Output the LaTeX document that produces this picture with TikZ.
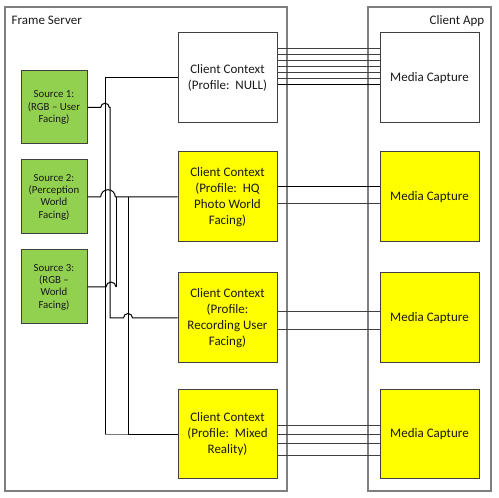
\documentclass[tikz,border=0pt]{standalone}
\usepackage{fontspec}
\setmainfont{Carlito}
\definecolor{boxc}{HTML}{404040}
\definecolor{contc}{HTML}{7F7F7F}
\definecolor{srcfill}{HTML}{92D050}
\definecolor{ylw}{HTML}{FFFF00}
\definecolor{txt}{HTML}{1A1A1A}
\definecolor{lng}{HTML}{404040}
\begin{document}
\begin{tikzpicture}[x=1pt,y=1pt,
  container/.style={draw=contc, line width=1.2pt, inner sep=0pt},
  ctx/.style={draw=boxc, line width=1pt, minimum width=99pt, minimum height=90pt, inner sep=0pt, align=center, text=txt, font=\fontsize{13}{16}\selectfont},
  src/.style={draw=boxc, line width=1pt, fill=srcfill, minimum width=66pt, minimum height=74pt, inner sep=0pt, align=center, text=txt, font=\fontsize{10.8}{12.3}\selectfont},
  title/.style={inner sep=0pt, text=txt, font=\fontsize{13}{16}\selectfont},
  bus/.style={draw=black, line width=1pt},
  busg/.style={draw=lng!70, line width=1pt},
  gl/.style={draw=lng, line width=1pt},
  bl/.style={draw=black, line width=1pt}]
\useasboundingbox (0,0) rectangle (499,498);
% containers
\node[container, minimum width=282pt, minimum height=484pt] (fs) at (146,249) {};
\node[container, minimum width=123pt, minimum height=484pt] (ca) at (429.5,249) {};
\node[title, anchor=base west] (fsl) at (11.5,473.7) {Frame Server};
\node[title, anchor=base east] (cal) at (484.5,473.7) {Client App};
% client contexts
\node[ctx] (cc1) at (227.5,420) {Client Context\\(Profile:\ \ NULL)};
\node[ctx, fill=ylw] (cc2) at (227.5,301) {Client Context\\(Profile:\ \ HQ\\Photo World\\Facing)};
\node[ctx, fill=ylw] (cc3) at (227.5,180) {Client Context\\(Profile:\\Recording User\\Facing)};
\node[ctx, fill=ylw, minimum height=89pt] (cc4) at (227.5,63.5) {Client Context\\(Profile:\ \ Mixed\\Reality)};
% media captures
\node[ctx] (mc1) at (429.5,420) {Media Capture};
\node[ctx, fill=ylw] (mc2) at (429.5,301) {Media Capture};
\node[ctx, fill=ylw] (mc3) at (429.5,180) {Media Capture};
\node[ctx, fill=ylw, minimum height=89pt] (mc4) at (429.5,63.5) {Media Capture};
% sources
\node[src, minimum height=73pt] (s1) at (54,390.5) {Source 1:\\(RGB -- User\\Facing)};
\node[src] (s2) at (54,301) {Source 2:\\(Perception\\World\\Facing)};
\node[src] (s3) at (54,211) {Source 3:\\(RGB --\\World\\Facing)};
% bus columns
\coordinate (b1) at (105,0);
\coordinate (b2) at (110,0);
\coordinate (b3) at (116,0);
\coordinate (b4) at (128,0);
\coordinate (h2) at (108,0);
\coordinate (h3) at (111,0);
% CC1 -> b1 -> CC4
\draw[bus] (cc1.west) -| (b1 |- cc4.west);
\draw[busg] (b1 |- cc4.west) -- (b4 |- cc4.west);
% Source 1 -> CC3
\draw[bus] (s1.east) -- ([xshift=-4.3pt]b1 |- s1.east) arc[start angle=180, end angle=0, radius=4.3pt] -| (b2 |- cc3.west)
  -- ([xshift=-4.5pt]b4 |- cc3.west) arc[start angle=180, end angle=0, radius=4.5pt] -- (cc3.west);
% Source 2 -> CC2
\draw[bus] (s2.east) -- ([xshift=-7.3pt]h2 |- s2.east) arc[start angle=180, end angle=0, radius=7.3pt] -- (cc2.west);
\draw[bus] (b3 |- s2.east) -- (b3 |- s3.east);
\draw[bus] (b4 |- s2.east) -- (b4 |- cc4.west) -- (cc4.west);
% Source 3
\draw[bus] (s3.east) -- ([xshift=-5pt]h3 |- s3.east) arc[start angle=180, end angle=0, radius=5pt];
% CC -> MC links
\foreach \o in {29,23.1,17.2,11.3,5.4,-0.5}
  \draw[gl] ([yshift=\o pt]cc1.east) -- ([yshift=\o pt]mc1.west);
\draw[bl] ([yshift=-6.4pt]cc1.east) -- ([yshift=-6.4pt]mc1.west);
\draw[bl] ([yshift=10.3pt]cc2.east) -- ([yshift=10.3pt]mc2.west);
\draw[gl] ([yshift=-7pt]cc2.east) -- ([yshift=-7pt]mc2.west);
\foreach \o in {6,-12}
  \draw[gl] ([yshift=\o pt]cc3.east) -- ([yshift=\o pt]mc3.west);
\foreach \o in {8.8,-0.2,-8.8,-21.2}
  \draw[gl] ([yshift=\o pt]cc4.east) -- ([yshift=\o pt]mc4.west);
\end{tikzpicture}
\end{document}
